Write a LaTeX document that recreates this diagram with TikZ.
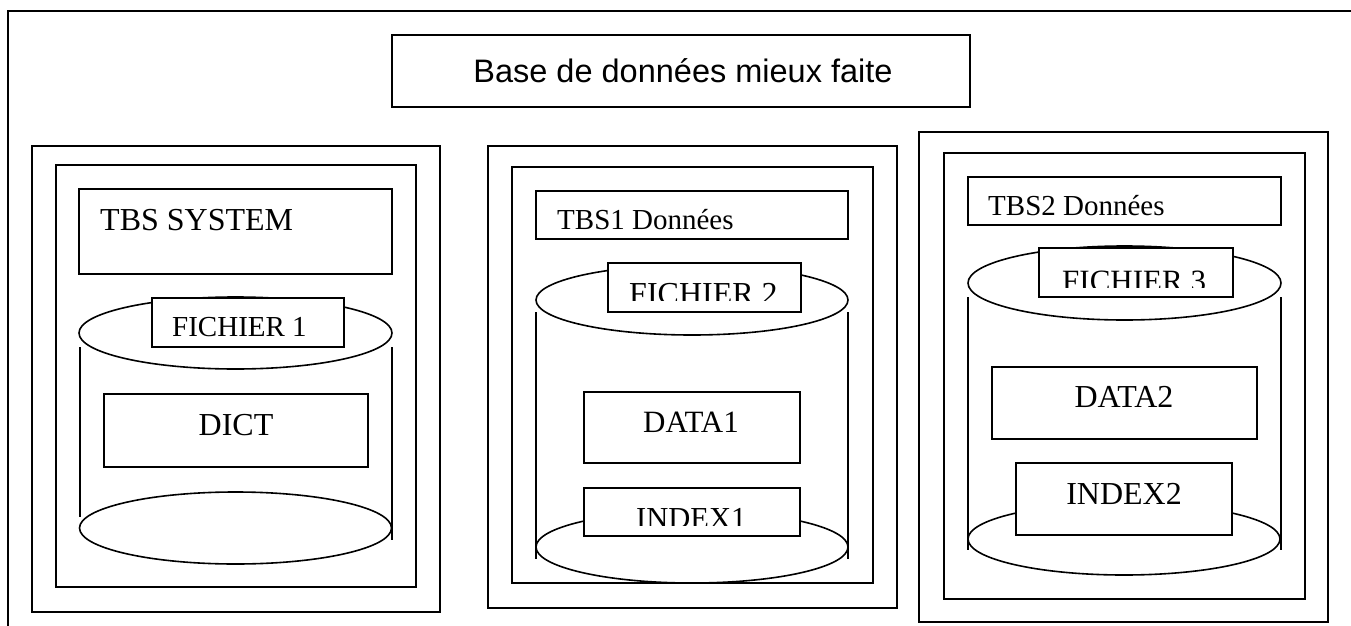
\documentclass[tikz,border=0pt]{standalone}
\usepackage{fontspec}
\setmainfont{Liberation Serif}
\newfontfamily\arialf{Liberation Sans}
\tikzset{
  ln/.style={line width=1.6pt},
  rbox/.style={draw, fill=white, line width=1.6pt, inner sep=0pt, outer sep=0pt, anchor=north west},
  lblw/.style={inner sep=0pt, anchor=base west},
  lblc/.style={inner sep=0pt, anchor=base},
  cyl/.style={draw, line width=1.6pt, fill=white},
}
\newcommand{\fs}[1]{\fontsize{#1}{#1}\selectfont}
\begin{document}
\begin{tikzpicture}[x=1pt,y=-1pt]
\useasboundingbox (0,0) rectangle (1351,626);
% open outer frame
\coordinate (ftr) at (1351,11);
\coordinate (ftl) at (8,11);
\coordinate (fbl) at (8,626);
\draw[ln] (ftr) -- (ftl) -- (fbl);
% title
\node[rbox, minimum width=578pt, minimum height=72pt] (title) at (392,35) {};
\node[inner sep=0pt, anchor=base, font=\arialf\fs{32.5}] (titletxt) at (683,82) {Base de données mieux faite};

% ===== Group 1 =====
\node[rbox, minimum width=408pt, minimum height=466pt] (g1out) at (32,146) {};
\node[rbox, minimum width=360pt, minimum height=422pt] (g1in) at (56,165) {};
\node[rbox, minimum width=313pt, minimum height=85pt] (tbs0) at (79,189) {};
\node[lblw, font=\fs{32}] (tbs0t) at (100,230) {TBS SYSTEM};
\draw[cyl] (235.5,528) ellipse [x radius=156pt, y radius=36pt];
\draw[cyl] (235.5,333) ellipse [x radius=156.5pt, y radius=36pt];
\draw[ln] (80,347) -- (80,517);
\draw[ln] (392,347) -- (392,540);
\node[rbox, minimum width=192pt, minimum height=49pt] (f1) at (152,298) {};
\node[lblw, font=\fs{29}] (f1t) at (172,336) {FICHIER 1};
\node[rbox, minimum width=264pt, minimum height=73pt] (dict) at (104,394) {};
\node[lblc, font=\fs{32}] (dictt) at (236,435) {DICT};

% ===== Group 2 =====
\node[rbox, minimum width=409pt, minimum height=462pt] (g2out) at (488,146) {};
\node[rbox, minimum width=361pt, minimum height=416pt] (g2in) at (512,167) {};
\node[rbox, minimum width=312pt, minimum height=48pt] (tbs1) at (536,191) {};
\node[lblw, font=\fs{29}] (tbs1t) at (557,229) {TBS1 Données};
\draw[cyl] (692,547) ellipse [x radius=156pt, y radius=36pt];
\draw[cyl] (692,300) ellipse [x radius=156pt, y radius=35pt];
\draw[ln] (536,312) -- (536,559);
\draw[ln] (848,312) -- (848,559);
\node[rbox, minimum width=193pt, minimum height=49pt] (f2) at (608,263) {};
\begin{scope}
\clip (609,264) rectangle (800,300);
\node[lblw, font=\fs{32}] (f2t) at (629,304) {FICHIER 2};
\end{scope}
\node[rbox, minimum width=216pt, minimum height=71pt] (data1) at (584,392) {};
\node[lblc, font=\fs{31}] (data1t) at (691,432) {DATA1};
\node[rbox, minimum width=216pt, minimum height=48pt] (idx1) at (584,488) {};
\begin{scope}
\clip (585,489) rectangle (799,525);
\node[lblw, font=\fs{30.5}] (idx1t) at (636,528) {INDEX1};
\end{scope}

% ===== Group 3 =====
\node[rbox, minimum width=409pt, minimum height=490pt] (g3out) at (919,132) {};
\node[rbox, minimum width=361pt, minimum height=446pt] (g3in) at (944,153) {};
\node[rbox, minimum width=313pt, minimum height=48pt] (tbs2) at (968,177) {};
\node[lblw, font=\fs{29}] (tbs2t) at (988,215) {TBS2 Données};
\draw[cyl] (1124,539) ellipse [x radius=156pt, y radius=36pt];
\draw[cyl] (1124.5,283) ellipse [x radius=156.5pt, y radius=37pt];
\draw[ln] (968,297) -- (968,550);
\draw[ln] (1281,297) -- (1281,550);
\node[rbox, minimum width=194pt, minimum height=49pt] (f3) at (1039,248) {};
\begin{scope}
\clip (1040,249) rectangle (1232,287);
\node[lblw, font=\fs{31}] (f3t) at (1062,291) {FICHIER 3};
\end{scope}
\node[rbox, minimum width=265pt, minimum height=72pt] (data2) at (992,367) {};
\node[lblc, font=\fs{32}] (data2t) at (1124,407) {DATA2};
\node[rbox, minimum width=216pt, minimum height=72pt] (idx2) at (1016,463) {};
\node[lblc, font=\fs{32}] (idx2t) at (1124,504) {INDEX2};
\end{tikzpicture}
\end{document}
